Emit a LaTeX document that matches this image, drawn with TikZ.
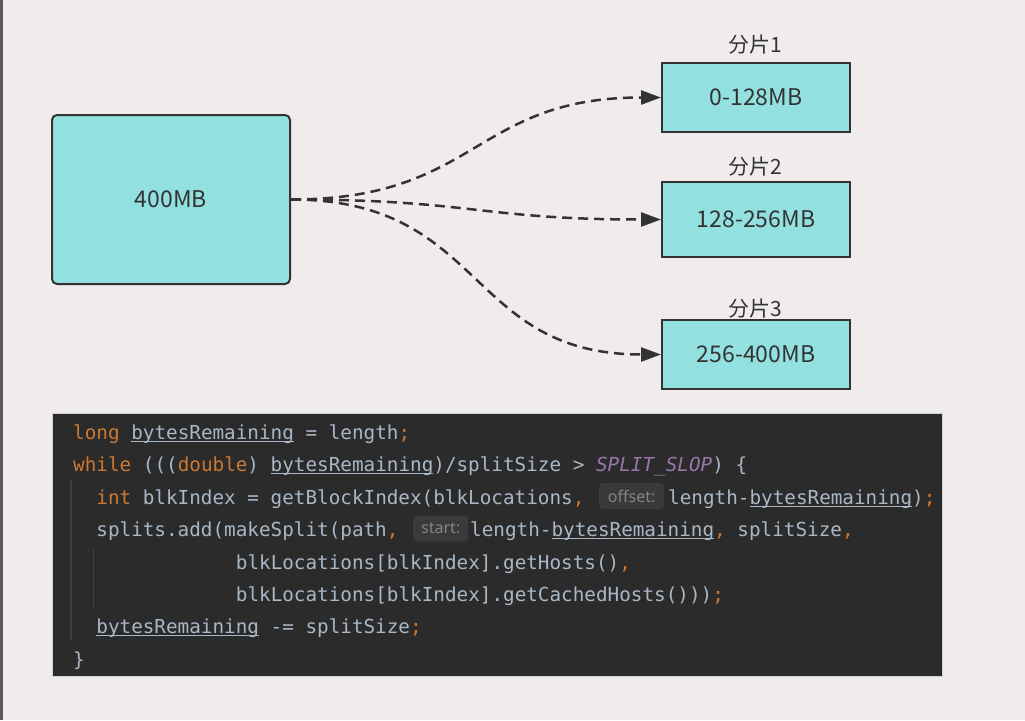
\documentclass[tikz,border=0pt]{standalone}
\usepackage{fontspec}
\usetikzlibrary{arrows.meta,positioning}
\newfontfamily\cjkfont{Noto Sans CJK SC}
\newfontfamily\codefont{DejaVu Sans Mono}
\newfontfamily\hintfont{Noto Sans}
\definecolor{pagebg}{HTML}{F0ECEB}
\definecolor{boxfill}{HTML}{92E0E0}
\definecolor{inkgray}{HTML}{333333}
\definecolor{codebg}{HTML}{2B2B2B}
\definecolor{codetxt}{HTML}{A9B7C6}
\definecolor{codekw}{HTML}{CC7832}
\definecolor{codeconst}{HTML}{9876AA}
\definecolor{hintbg}{HTML}{3A3A3A}
\definecolor{hinttxt}{HTML}{858585}
\definecolor{guidegray}{HTML}{404040}
\newcommand{\kw}[1]{\textcolor{codekw}{#1}}
\newcommand{\cst}[1]{\textcolor{codeconst}{\itshape #1}}
\newcommand{\ulvar}[1]{\setbox0\hbox{#1}\rlap{\rule[-2.2pt]{\wd0}{1pt}}\box0{}}

\begin{document}
\begin{tikzpicture}[x=1pt,y=-1pt,
    block/.style={draw=inkgray,line width=2pt,fill=boxfill,text=inkgray,font=\cjkfont\fontsize{23}{25}\selectfont},
    tag/.style={text=inkgray,inner sep=0pt,font=\cjkfont\fontsize{21}{23}\selectfont},
    flow/.style={draw=inkgray,line width=2.5pt,dash pattern=on 10pt off 6pt,-{Triangle[length=20pt,width=14pt]}},
    code/.style={anchor=base west,inner sep=0pt,text=codetxt,font=\codefont\fontsize{19.3}{21}\selectfont},
    hint/.style={anchor=west,rounded corners=4pt,fill=hintbg,text=hinttxt,inner sep=0pt,minimum height=26pt,font=\hintfont\fontsize{16}{17}\selectfont},
    guide/.style={draw=guidegray,line width=1.2pt}]
            \fill[pagebg] (0,0) rectangle (1025,720);
            \useasboundingbox (0,0) rectangle (1025,720);
            \draw[line width=2.5pt,color=black!65] (1.5,0) -- (1.5,720);
            % file and splits
            \node[block,rounded corners=5pt,minimum width=238pt,minimum height=169pt] (file) at (171,199.5) {400MB};
            \node[block,minimum width=188pt,minimum height=69pt] (s1) at (756,97.5) {0-128MB};
            \node[block,minimum width=188pt,minimum height=75pt] (s2) at (756,219.5) {128-256MB};
            \node[block,minimum width=188pt,minimum height=69pt] (s3) at (756,354.5) {256-400MB};
            \node[tag] (t1) at (755,45) {分片1};
            \node[tag] (t2) at (755,167) {分片2};
            \node[tag] (t3) at (755,309) {分片3};
            \draw[flow] (file.east) to[out=0,in=180,looseness=1.25] (s1.west);
            \draw[flow] (file.east) to[out=0,in=180,looseness=1.25] (s2.west);
            \draw[flow] (file.east) to[out=0,in=180,looseness=1.25] (s3.west);
            % code
            \draw[fill=codebg,draw=black!18,line width=1pt] (52,413) rectangle (942,676);
            \draw[guide] (71,480) -- (71,640);
            \draw[guide] (93.5,549) -- (93.5,610);
            \node[code] (c1) at (73,439.5) {\kw{long} \ulvar{bytesRemaining} = length\kw{;}};
            \node[code] (c2) at (73,471.9) {\kw{while} (((\kw{double}) \ulvar{bytesRemaining})/splitSize > \cst{SPLIT\string_SLOP}) \{};
            \node[code] (c3a) at (96.2,504.3) {\kw{int} blkIndex = getBlockIndex(blkLocations\kw{,}};
            \node[hint,minimum width=65pt] (h1) at (599,496) {offset:};
            \node[code] (c3b) at (668,504.3) {length-\ulvar{bytesRemaining})\kw{;}};
            \node[code] (c4a) at (96.2,536.7) {splits.add(makeSplit(path\kw{,}};
            \node[hint,minimum width=55pt] (h2) at (413,528.5) {start:};
            \node[code] (c4b) at (470,536.7) {length-\ulvar{bytesRemaining}\kw{,} splitSize\kw{,}};
            \node[code] (c5) at (235.7,569.1) {blkLocations[blkIndex].getHosts()\kw{,}};
            \node[code] (c6) at (235.7,601.5) {blkLocations[blkIndex].getCachedHosts()))\kw{;}};
            \node[code] (c7) at (96.2,633.9) {\ulvar{bytesRemaining} -= splitSize\kw{;}};
            \node[code] (c8) at (73,666.3) {\}};
\end{tikzpicture}
\end{document}
